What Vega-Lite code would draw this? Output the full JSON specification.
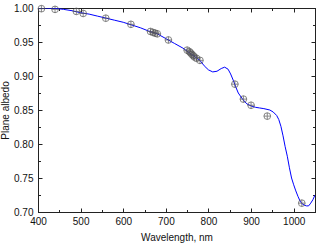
{
  "$schema": "https://vega.github.io/schema/vega-lite/v6.json",
  "autosize": "none",
  "width": 277,
  "height": 204,
  "padding": {"left": 38, "top": 8, "right": 5, "bottom": 35},
  "background": "white",
  "config": {
    "view": {"stroke": "#222", "strokeWidth": 1},
    "axis": {
      "grid": false,
      "domainColor": "#222",
      "tickColor": "#222",
      "labelFont": "Liberation Sans",
      "titleFont": "Liberation Sans",
      "labelFontSize": 10,
      "titleFontSize": 10,
      "titleFontWeight": "normal",
      "labelColor": "#111",
      "titleColor": "#111"
    }
  },
  "datasets": {
    "spectrum": [
      {"wl": 400, "a": 1.000}, {"wl": 420, "a": 1.000}, {"wl": 440, "a": 0.9995},
      {"wl": 460, "a": 0.998}, {"wl": 480, "a": 0.996}, {"wl": 500, "a": 0.993},
      {"wl": 520, "a": 0.991}, {"wl": 540, "a": 0.988}, {"wl": 560, "a": 0.985},
      {"wl": 580, "a": 0.982}, {"wl": 600, "a": 0.979}, {"wl": 620, "a": 0.975},
      {"wl": 640, "a": 0.971}, {"wl": 660, "a": 0.966}, {"wl": 680, "a": 0.962},
      {"wl": 700, "a": 0.955}, {"wl": 720, "a": 0.948}, {"wl": 740, "a": 0.941},
      {"wl": 760, "a": 0.932}, {"wl": 780, "a": 0.923}, {"wl": 790, "a": 0.915},
      {"wl": 800, "a": 0.909}, {"wl": 810, "a": 0.906}, {"wl": 820, "a": 0.907},
      {"wl": 830, "a": 0.911}, {"wl": 838, "a": 0.913}, {"wl": 846, "a": 0.910},
      {"wl": 852, "a": 0.903}, {"wl": 858, "a": 0.894}, {"wl": 864, "a": 0.884},
      {"wl": 870, "a": 0.875}, {"wl": 880, "a": 0.866}, {"wl": 890, "a": 0.859},
      {"wl": 900, "a": 0.856}, {"wl": 910, "a": 0.854}, {"wl": 920, "a": 0.853},
      {"wl": 930, "a": 0.852}, {"wl": 944, "a": 0.850}, {"wl": 952, "a": 0.847},
      {"wl": 960, "a": 0.842}, {"wl": 965, "a": 0.836}, {"wl": 970, "a": 0.826},
      {"wl": 975, "a": 0.812}, {"wl": 980, "a": 0.796}, {"wl": 985, "a": 0.782},
      {"wl": 990, "a": 0.765}, {"wl": 995, "a": 0.750}, {"wl": 1000, "a": 0.740},
      {"wl": 1005, "a": 0.731}, {"wl": 1010, "a": 0.723}, {"wl": 1015, "a": 0.716},
      {"wl": 1020, "a": 0.712}, {"wl": 1025, "a": 0.710}, {"wl": 1030, "a": 0.709},
      {"wl": 1035, "a": 0.709}, {"wl": 1040, "a": 0.713}, {"wl": 1045, "a": 0.718},
      {"wl": 1050, "a": 0.725}
    ],
    "obs": [
      {"wl": 408, "a": 0.999}, {"wl": 440, "a": 0.998}, {"wl": 490, "a": 0.995},
      {"wl": 506, "a": 0.992}, {"wl": 559, "a": 0.985}, {"wl": 618, "a": 0.976},
      {"wl": 664, "a": 0.9655}, {"wl": 670, "a": 0.964}, {"wl": 675, "a": 0.963},
      {"wl": 680, "a": 0.962}, {"wl": 706, "a": 0.953}, {"wl": 750, "a": 0.938},
      {"wl": 755, "a": 0.936}, {"wl": 758, "a": 0.934}, {"wl": 761, "a": 0.932},
      {"wl": 764, "a": 0.930}, {"wl": 767, "a": 0.928}, {"wl": 772, "a": 0.926},
      {"wl": 780, "a": 0.923}, {"wl": 862, "a": 0.888}, {"wl": 882, "a": 0.866},
      {"wl": 900, "a": 0.857}, {"wl": 938, "a": 0.841}, {"wl": 1019, "a": 0.713}
    ]
  },
  "layer": [
    {
      "data": {"name": "spectrum"},
      "mark": {"type": "line", "color": "#0000ff", "strokeWidth": 1, "clip": true},
      "encoding": {
        "x": {
          "field": "wl", "type": "quantitative",
          "scale": {"domain": [400, 1050], "nice": false, "zero": false},
          "axis": {
            "orient": "bottom",
            "title": "Wavelength, nm",
            "format": "d",
            "values": [400, 450, 500, 550, 600, 650, 700, 750, 800, 850, 900, 950, 1000, 1050],
            "labelExpr": "datum.value % 100 === 0 ? datum.label : ''",
            "tickSize": {"condition": {"test": "datum.value % 100 === 0", "value": -4}, "value": -2.5},
            "labelPadding": 8,
            "labelFlush": false,
            "titlePadding": 6
          }
        },
        "y": {
          "field": "a", "type": "quantitative",
          "scale": {"domain": [0.7, 1.0], "nice": false, "zero": false},
          "axis": {
            "orient": "left",
            "title": "Plane albedo",
            "format": ".2f",
            "values": [0.7, 0.725, 0.75, 0.775, 0.8, 0.825, 0.85, 0.875, 0.9, 0.925, 0.95, 0.975, 1.0],
            "labelExpr": "round(datum.value*1000) % 50 === 0 ? datum.label : ''",
            "tickSize": {"condition": {"test": "round(datum.value*1000) % 50 === 0", "value": -4}, "value": -2.5},
            "labelPadding": 9,
            "labelFlush": false,
            "titleX": -28,
            "titleY": 102,
            "titleAngle": -90,
            "titleAlign": "center",
            "titleBaseline": "bottom"
          }
        }
      }
    },
    {
      "data": {"name": "obs"},
      "mark": {"type": "point", "shape": "circle", "filled": false, "color": "#555", "strokeWidth": 1, "size": 45},
      "encoding": {
        "x": {
          "field": "wl", "type": "quantitative",
          "axis": {
            "orient": "top", "title": null, "labels": false,
            "values": [400, 450, 500, 550, 600, 650, 700, 750, 800, 850, 900, 950, 1000, 1050],
            "tickSize": {"condition": {"test": "datum.value % 100 === 0", "value": -4}, "value": -2.5}
          }
        },
        "y": {
          "field": "a", "type": "quantitative",
          "axis": {
            "orient": "right", "title": null, "labels": false,
            "values": [0.7, 0.725, 0.75, 0.775, 0.8, 0.825, 0.85, 0.875, 0.9, 0.925, 0.95, 0.975, 1.0],
            "tickSize": {"condition": {"test": "round(datum.value*1000) % 50 === 0", "value": -4}, "value": -2.5}
          }
        }
      }
    },
    {
      "data": {"name": "obs"},
      "mark": {"type": "point", "shape": "M-1,0L1,0M0,-1L0,1", "filled": false, "color": "#555", "strokeWidth": 1, "size": 45},
      "encoding": {
        "x": {"field": "wl", "type": "quantitative", "axis": null},
        "y": {"field": "a", "type": "quantitative", "axis": null}
      }
    }
  ],
  "resolve": {"axis": {"x": "independent", "y": "independent"}}
}
